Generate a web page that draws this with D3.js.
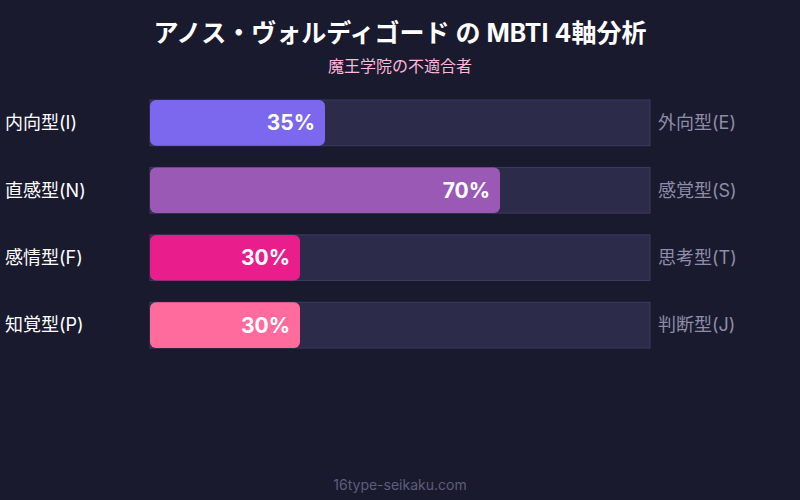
<!DOCTYPE html>
<html><head><meta charset="utf-8">
<script src="https://cdn.jsdelivr.net/npm/d3@7"></script>
<style>body{margin:0;background:#1a1a2e;}svg{display:block;font-family:Inter,"Noto Sans CJK JP",sans-serif;}</style>
</head><body><svg id="c" width="800" height="500"></svg>
<script>
const leftLabels=["内向型(I)","直感型(N)","感情型(F)","知覚型(P)"];
const rightLabels=["外向型(E)","感覚型(S)","思考型(T)","判断型(J)"];
const values=[35,70,30,30];
const colors=["#7b68ee","#9b59b6","#e91e8c","#ff6b9d"];
const svg=d3.select("#c");
svg.append("rect").attr("width",800).attr("height",500).attr("fill","#1a1a2e");
svg.append("text").attr("x",400).attr("y",42).attr("text-anchor","middle").attr("fill","#fff").attr("font-size",25).attr("font-weight","bold").text("アノス・ヴォルディゴード の MBTI 4軸分析");
svg.append("text").attr("x",400).attr("y",72).attr("text-anchor","middle").attr("fill","#ffb6d9").attr("font-size",16).text("魔王学院の不適合者");
const x=d3.scaleLinear().domain([0,100]).range([150,650]);
const y=d3.scaleBand().domain(d3.range(4)).range([100,348]).paddingInner(20/62).paddingOuter(0);
const g=svg.selectAll("g.row").data(values).join("g");
g.append("rect").attr("x",x(0)).attr("y",(d,i)=>y(i)).attr("width",x(100)-x(0)).attr("height",y.bandwidth()).attr("fill","#2d2b4a").attr("stroke","#3d3b5e").attr("stroke-width",1);
g.append("rect").attr("x",x(0)).attr("y",(d,i)=>y(i)).attr("width",d=>x(d)-x(0)).attr("height",y.bandwidth()).attr("rx",6).attr("fill",(d,i)=>colors[i]);
g.append("text").attr("x",d=>x(d)-10).attr("y",(d,i)=>y(i)+y.bandwidth()/2).attr("dy","0.35em").attr("text-anchor","end").attr("fill","#fff").attr("font-size",21).attr("font-weight","bold").text(d=>d+"%");
g.append("text").attr("x",5).attr("y",(d,i)=>y(i)+y.bandwidth()/2).attr("dy","0.35em").attr("fill","#fff").attr("font-size",18).text((d,i)=>leftLabels[i]);
g.append("text").attr("x",658).attr("y",(d,i)=>y(i)+y.bandwidth()/2).attr("dy","0.35em").attr("fill","#8e8ca8").attr("font-size",18).text((d,i)=>rightLabels[i]);
svg.append("text").attr("x",400).attr("y",490).attr("text-anchor","middle").attr("fill","#5f5d7a").attr("font-size",14).text("16type-seikaku.com");
</script></body></html>
